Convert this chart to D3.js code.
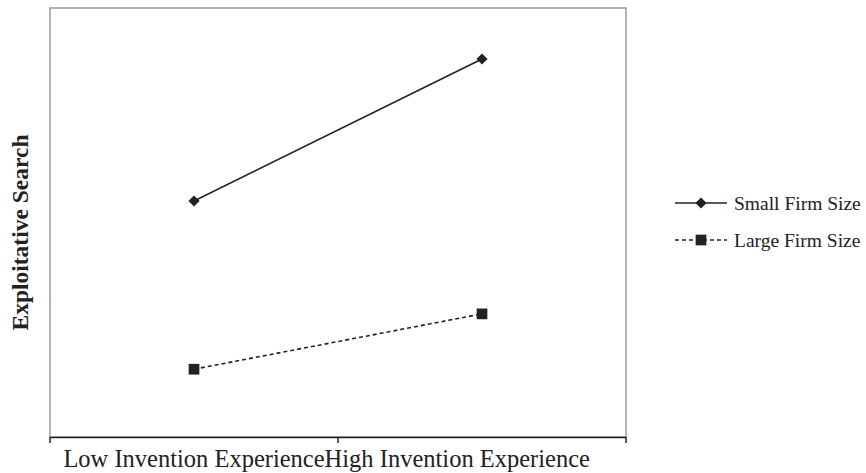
<!DOCTYPE html>
<html>
<head>
<meta charset="utf-8">
<script src="https://cdn.jsdelivr.net/npm/d3@7"></script>
<style>
  html, body { margin: 0; padding: 0; background: #fff; }
  svg { display: block; }
  text { font-family: "Liberation Serif", "Times New Roman", serif; fill: #222; }
</style>
</head>
<body>
<svg id="chart" width="866" height="473"></svg>
<script>
const categories = ["Low Invention Experience", "High Invention Experience"];
const seriesNames = ["Small Firm Size", "Large Firm Size"];
const smallFirm = [5.5, 8.81];
const largeFirm = [1.58, 2.87];
const yAxisTitle = "Exploitative Search";

const svg = d3.select("#chart");
const margin = {left: 50, top: 8, right: 240, bottom: 36};
const W = 866, H = 473;
const plotL = margin.left, plotR = W - margin.right, plotT = margin.top, plotB = H - margin.bottom;

const x = d3.scaleBand().domain(categories).range([plotL, plotR]);
const y = d3.scaleLinear().domain([0, 10]).range([plotB, plotT]);

// frame
svg.append("rect")
  .attr("x", plotL).attr("y", plotT)
  .attr("width", plotR - plotL).attr("height", plotB - plotT)
  .attr("fill", "none").attr("stroke", "#9a9a9a").attr("stroke-width", 1.5);

// bottom axis
const xAxis = d3.axisBottom(x).tickSize(0).tickFormat("");
const gx = svg.append("g").attr("transform", `translate(0,${plotB})`).call(xAxis);
gx.select(".domain").attr("stroke", "#222").attr("stroke-width", 1.5);
const bounds = [plotL, ...categories.slice(1).map(c => x(c)), plotR];
gx.selectAll("line.bt").data(bounds).enter().append("line")
  .attr("class", "bt")
  .attr("x1", d => d).attr("x2", d => d)
  .attr("y1", 0).attr("y2", 6)
  .attr("stroke", "#222").attr("stroke-width", 1.5);

// category labels (Excel-style adjacent placement)
const lbl0 = svg.append("text")
  .attr("x", x(categories[0]) + x.bandwidth() / 2)
  .attr("y", 467)
  .attr("text-anchor", "middle")
  .attr("font-size", 24.5)
  .text(categories[0]);
const w0 = lbl0.node().getComputedTextLength();
svg.append("text")
  .attr("x", x(categories[0]) + x.bandwidth() / 2 + w0 / 2)
  .attr("y", 467)
  .attr("text-anchor", "start")
  .attr("font-size", 24.5)
  .text(categories[1]);

// y title
svg.append("text")
  .attr("transform", `translate(28,${(plotT + plotB) / 2 + 10}) rotate(-90)`)
  .attr("text-anchor", "middle")
  .attr("font-size", 23.5)
  .attr("font-weight", "bold")
  .text(yAxisTitle);

const line = d3.line()
  .x((d, i) => x(categories[i]) + x.bandwidth() / 2)
  .y(d => y(d));

const series = [
  {name: seriesNames[0], values: smallFirm, dash: null, size: 62, rot: 45},
  {name: seriesNames[1], values: largeFirm, dash: "4,3", size: 115, rot: 0}
];

series.forEach(s => {
  svg.append("path")
    .datum(s.values)
    .attr("d", line)
    .attr("fill", "none")
    .attr("stroke", "#222")
    .attr("stroke-width", 1.6)
    .attr("stroke-dasharray", s.dash);
  svg.selectAll(null).data(s.values).enter().append("path")
    .attr("d", d3.symbol().type(d3.symbolSquare).size(s.size))
    .attr("transform", (d, i) => `translate(${x(categories[i]) + x.bandwidth() / 2},${y(d)}) rotate(${s.rot})`)
    .attr("fill", "#222");
});

// legend
const legend = svg.append("g").attr("transform", "translate(675,203)");
series.forEach((s, i) => {
  const g = legend.append("g").attr("transform", `translate(0,${i * 37})`);
  g.append("line").attr("x1", 0).attr("x2", 52).attr("y1", 0).attr("y2", 0)
    .attr("stroke", "#222").attr("stroke-width", 1.5).attr("stroke-dasharray", s.dash);
  g.append("path")
    .attr("d", d3.symbol().type(d3.symbolSquare).size(s.size))
    .attr("transform", `translate(26,0) rotate(${s.rot})`)
    .attr("fill", "#222");
  g.append("text").attr("x", 59).attr("y", 7)
    .attr("font-size", 19.5)
    .text(s.name);
});
</script>
</body>
</html>
